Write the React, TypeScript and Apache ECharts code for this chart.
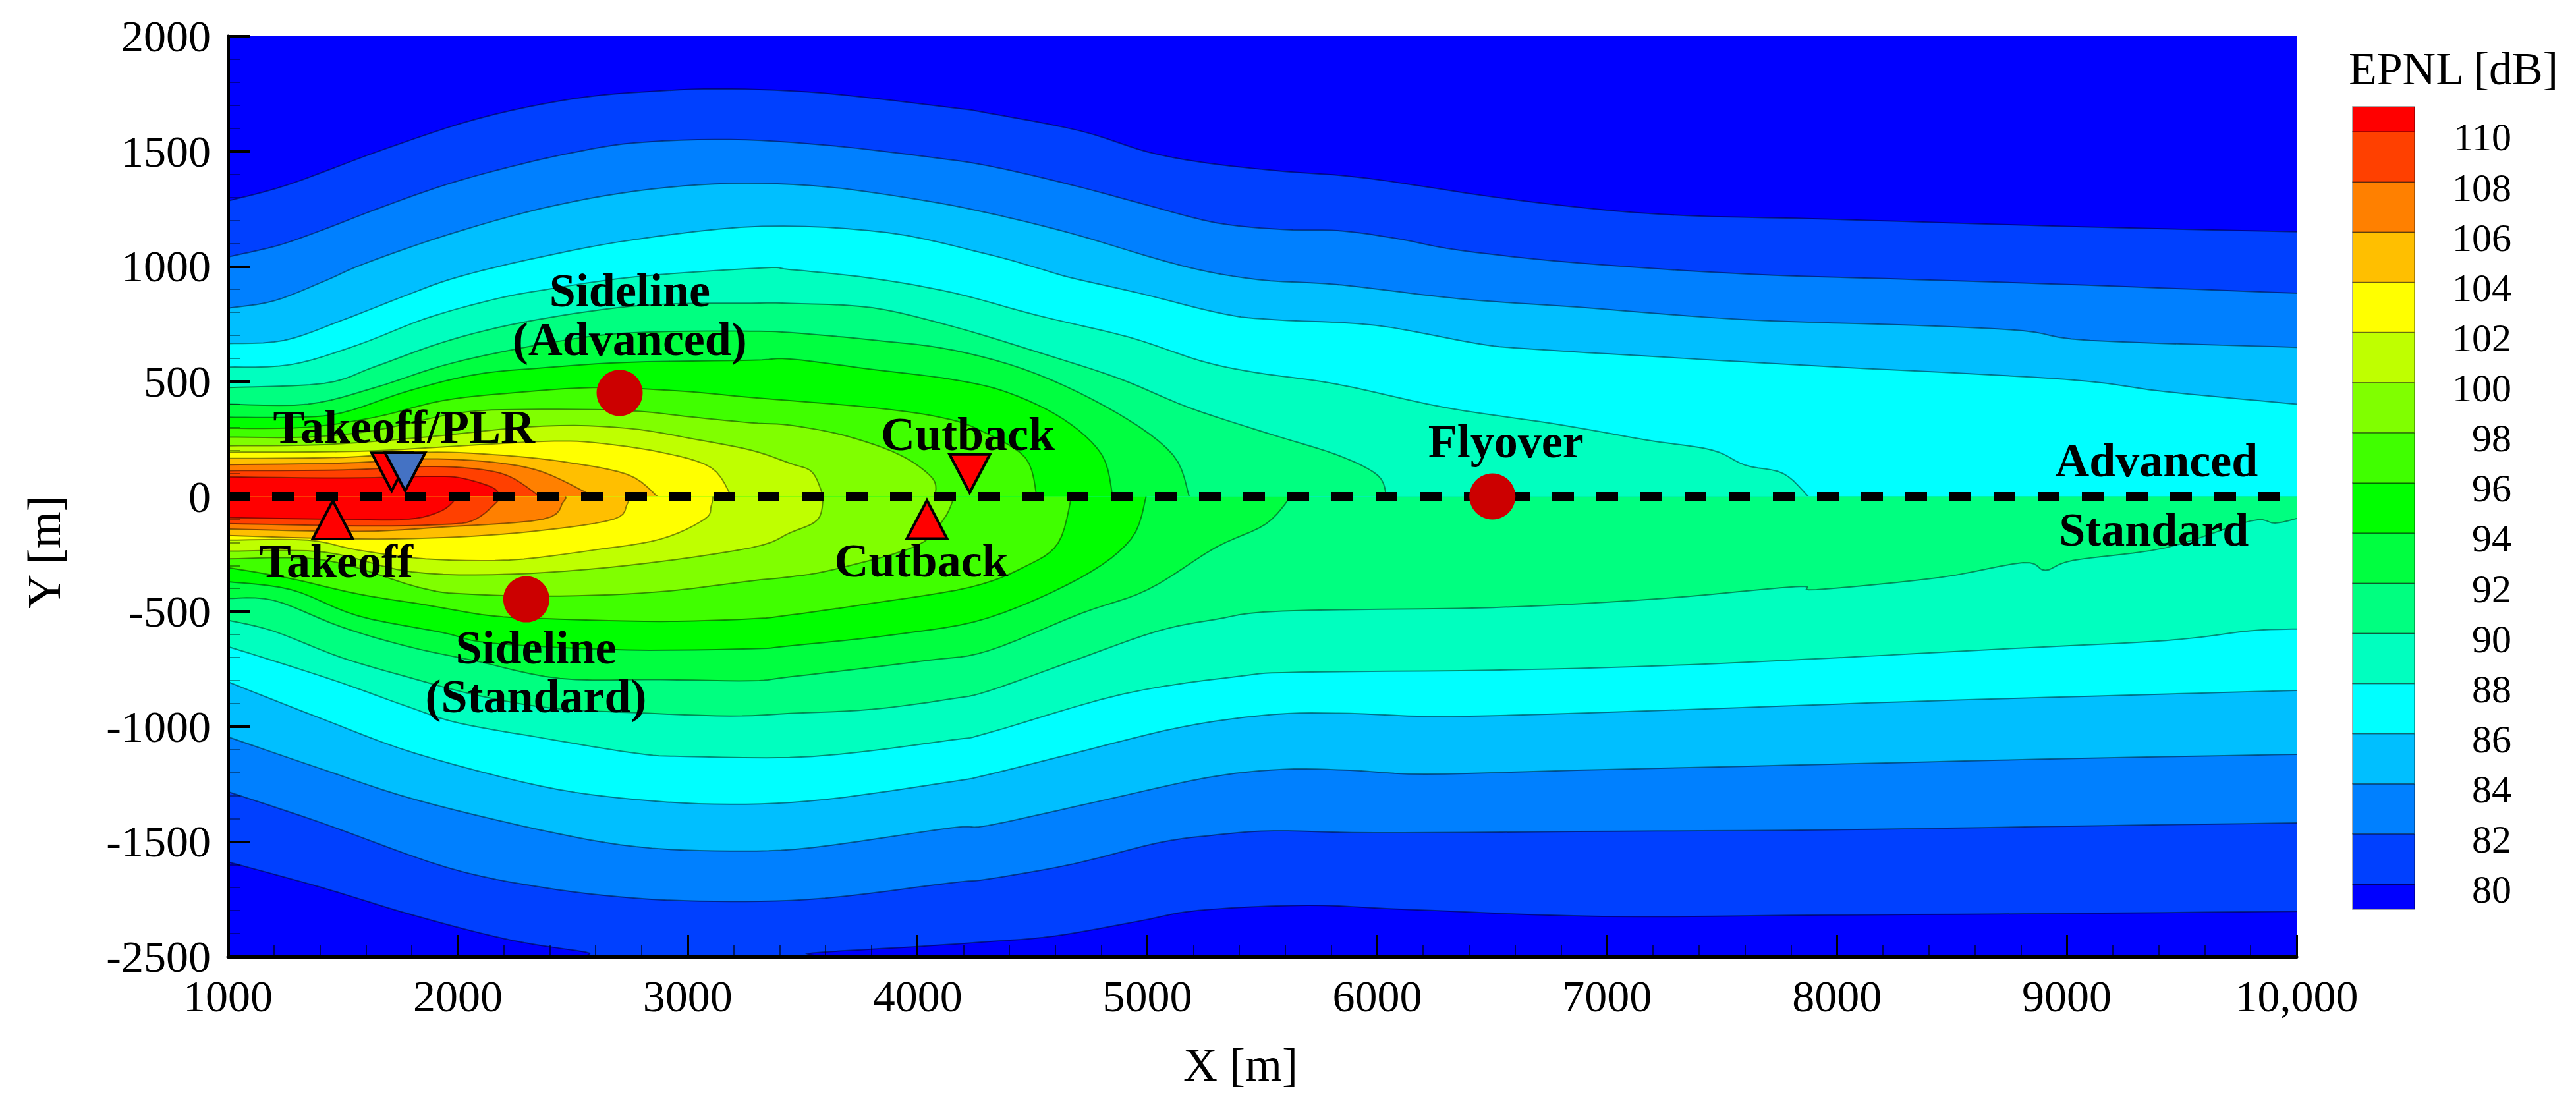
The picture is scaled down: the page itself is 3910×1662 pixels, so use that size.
import React, { useEffect, useRef } from "react";
import * as echarts from "echarts";

// Upper half (Advanced): contour curves, [x, y]
const up80 = [[1000,1284],[1266,1356],[1677,1508],[2089,1642],[2500,1728],[2857,1761],[3186,1771],[3597,1752],[4146,1690],[4307,1666],[4710,1588],[5002,1497],[5259,1449],[5588,1413],[5954,1383],[6613,1287],[7235,1226],[7967,1205],[9065,1172],[10000,1150]];
const up82 = [[1000,1041],[1211,1089],[1403,1155],[1677,1260],[1952,1356],[2226,1432],[2500,1494],[2774,1537],[3186,1551],[3597,1527],[4009,1480],[4307,1437],[4673,1353],[4966,1275],[5295,1190],[5588,1160],[5844,1154],[6100,1118],[6357,1070],[6869,1015],[7601,967],[8333,943],[9065,919],[10000,883]];
const up84 = [[1000,818],[1200,850],[1420,936],[1595,1012],[1952,1136],[2363,1251],[2774,1327],[3186,1360],[3597,1346],[4009,1289],[4307,1232],[4673,1142],[5149,1003],[5478,943],[5844,919],[6357,859],[6869,823],[7601,768],[8333,744],[8809,720],[9101,678],[10000,648]];
const up86 = [[1000,664],[1244,678],[1493,764],[1786,878],[2005,955],[2363,1041],[2774,1117],[3323,1174],[3872,1146],[4307,1052],[4527,991],[4673,949],[4966,883],[5332,793],[5551,768],[5991,744],[6430,665],[6649,642],[7235,606],[7967,564],[8992,509],[9431,455],[10000,401]];
const up88 = [[1000,562],[1274,573],[1566,659],[1859,773],[2151,855],[2371,897],[2774,955],[3323,993],[3447,986],[3804,948],[4160,884],[4517,788],[4921,692],[5230,590],[5468,539],[5824,488],[6299,386],[6775,315],[7174,245],[7455,202],[7601,136],[7766,100],[7875,0]];
const up90 = [[1000,473],[1420,492],[1639,564],[1932,669],[2225,745],[2590,807],[2883,835],[3275,840],[3447,839],[3804,820],[4160,737],[4517,629],[4873,514],[5182,386],[5515,277],[5824,181],[6002,92],[6040,0]];
const up92 = [[1000,401],[1347,401],[1639,473],[1932,568],[2225,635],[2590,697],[2883,716],[3275,718],[3447,712],[3804,680],[4160,635],[4517,533],[4873,360],[5111,181],[5182,0]];
const up94 = [[1000,344],[1274,344],[1493,363],[1786,459],[2078,530],[2371,559],[2737,583],[3275,592],[3447,597],[3804,552],[4160,507],[4398,450],[4636,335],[4802,181],[4849,0]];
const up96 = [[1000,296],[1347,301],[1639,344],[1932,416],[2225,449],[2590,473],[2956,459],[3275,430],[3804,386],[4113,341],[4279,284],[4469,168],[4519,0]];
const up98 = [[1000,258],[1347,258],[1639,287],[2005,363],[2298,378],[2737,373],[3029,344],[3275,320],[3447,309],[3685,264],[3922,181],[4065,79],[4077,0]];
const up100 = [[1000,220],[1420,225],[1859,258],[2371,306],[2737,296],[3029,249],[3275,201],[3447,143],[3542,105],[3590,0]];
const up102 = [[1000,192],[1566,196],[1932,215],[2371,239],[2590,234],[2883,192],[3102,125],[3190,0]];
const up104 = [[1000,165],[1500,170],[1859,192],[2151,182],[2444,153],[2737,96],[2868,0]];
const up106 = [[1000,138],[1500,145],[1859,163],[2151,149],[2371,106],[2590,0]];
const up108 = [[1000,112],[1500,115],[1859,130],[2078,120],[2225,87],[2356,0]];
const up110 = [[1000,85],[1500,80],[1859,87],[2005,82],[2151,39],[2180,0]];

// Lower half (Standard)
const low80 = [[1000,-1588],[1403,-1698],[1814,-1822],[2226,-1927],[2555,-1980],[2640,-2000],[3500,-2000],[3542,-1984],[4000,-1956],[4307,-1935],[4600,-1910],[4966,-1845],[5222,-1799],[5698,-1777],[6137,-1795],[6979,-1825],[7967,-1819],[9065,-1812],[10000,-1803]];
const low82 = [[1000,-1283],[1403,-1417],[1952,-1612],[2363,-1698],[2774,-1746],[3186,-1760],[3597,-1746],[4146,-1679],[4307,-1663],[4673,-1598],[5039,-1507],[5259,-1475],[5551,-1453],[5991,-1462],[6869,-1456],[7967,-1449],[9065,-1432],[10000,-1419]];
const low84 = [[1000,-1045],[1403,-1183],[1814,-1317],[2363,-1450],[2774,-1522],[3186,-1541],[3542,-1526],[4146,-1440],[4307,-1430],[4783,-1326],[5259,-1222],[5588,-1186],[5881,-1190],[6210,-1207],[6869,-1190],[7967,-1164],[9065,-1138],[10000,-1121]];
const low86 = [[1000,-806],[1403,-964],[1814,-1116],[2363,-1259],[2774,-1317],[3186,-1338],[3597,-1317],[4146,-1240],[4307,-1209],[4673,-1118],[5149,-1002],[5551,-947],[5881,-943],[6320,-956],[7235,-930],[8333,-891],[9431,-859],[10000,-843]];
const low88 = [[1000,-653],[1200,-715],[1493,-810],[1786,-915],[2005,-985],[2363,-1049],[2774,-1116],[2994,-1130],[3542,-1130],[4146,-1059],[4307,-1028],[4893,-859],[5405,-781],[5661,-764],[6503,-755],[7235,-736],[7967,-703],[8699,-664],[9431,-626],[9797,-584],[10000,-576]];
const low90 = [[1000,-538],[1200,-586],[1493,-700],[1786,-786],[2078,-863],[2405,-920],[2774,-940],[3186,-954],[3447,-943],[3804,-925],[4146,-880],[4307,-846],[4673,-716],[5039,-587],[5295,-535],[5588,-498],[6503,-483],[7235,-444],[7820,-392],[7912,-405],[8443,-353],[8809,-288],[8907,-321],[9028,-278],[9431,-223],[9797,-107],[9906,-116],[10000,-96]];
const low92 = [[1000,-443],[1200,-452],[1493,-567],[1786,-653],[2078,-715],[2444,-791],[2883,-796],[3275,-801],[3447,-784],[4041,-713],[4307,-671],[4710,-509],[5002,-405],[5295,-223],[5515,-120],[5624,0]];
const low94 = [[1000,-371],[1274,-405],[1566,-519],[1932,-591],[2151,-638],[2737,-667],[3275,-662],[3447,-649],[3922,-598],[4307,-528],[4710,-353],[4929,-185],[4995,0]];
const low96 = [[1000,-309],[1274,-357],[1566,-424],[1859,-471],[2151,-519],[2444,-533],[2883,-543],[3275,-532],[3447,-515],[3804,-464],[4231,-394],[4469,-304],[4612,-202],[4670,0]];
const low98 = [[1000,-271],[1420,-276],[1830,-395],[2034,-424],[2444,-433],[2883,-414],[3275,-367],[3447,-349],[3637,-317],[3994,-215],[4113,-100],[4160,0]];
const low100 = [[1000,-238],[1420,-242],[1800,-328],[2225,-338],[2737,-300],[3275,-223],[3447,-157],[3566,-100],[3590,0]];
const low102 = [[1000,-190],[1347,-190],[1566,-233],[1859,-271],[2225,-276],[2590,-233],[2883,-185],[3073,-99],[3102,-42],[3110,0]];
const low104 = [[1000,-170],[1566,-185],[2005,-176],[2371,-147],[2678,-99],[2737,-33],[2745,0]];
const low106 = [[1000,-142],[1566,-152],[1932,-133],[2371,-99],[2459,-23],[2470,0]];
const low108 = [[1000,-118],[1566,-128],[1932,-122],[2078,-99],[2195,0]];
const low110 = [[1000,-92],[1500,-100],[1786,-99],[1932,-61],[2000,0]];

const upperCurves = [up80,up82,up84,up86,up88,up90,up92,up94,up96,up98,up100,up102,up104,up106,up108,up110];
const lowerCurves = [low80,low82,low84,low86,low88,low90,low92,low94,low96,low98,low100,low102,low104,low106,low108,low110];
const levels = [80,82,84,86,88,90,92,94,96,98,100,102,104,106,108,110];
const levelColors = ["#0040ff","#0080ff","#00bfff","#00ffff","#00ffbf","#00ff80","#00ff40","#00ff00","#40ff00","#80ff00","#bfff00","#ffff00","#ffbf00","#ff8000","#ff4000","#ff0000"];
const belowColor = "#0000ff";
const barEdges = [79,80,82,84,86,88,90,92,94,96,98,100,102,104,106,108,110,111];
const barColors = [belowColor, ...levelColors];
const barLabelShift = 0.22;

const xTickLabels: Record<number,string> = {10000:"10,000"};
const yTickLabels: Record<number,string> = {2000:"2000",1500:"1500",1000:"1000",500:"500",0:"0",[-500]:"-500",[-1000]:"-1000",[-1500]:"-1500",[-2000]:"-2500"};

const dashLine = [[1000,0],[10000,0]];
const noisePoints = [[2704,450],[2298,-447],[6501,0]];
const upTriangles = [[1456,-102],[4041,-100]];
const downRed = [[1712,107],[4227,99]];
const downBlue = [[1771,107]];
const annotations: [number,number,string][] = [
  [2748,789,"Sideline\n(Advanced)"],
  [1766,302,"Takeoff/PLR"],[1471,-282,"Takeoff"],
  [2340,-763,"Sideline\n(Standard)"],
  [4219,271,"Cutback"],[4017,-280,"Cutback"],
  [6560,239,"Flyover"],[9390,156,"Advanced"],[9379,-144,"Standard"],
];

const SERIF = "Liberation Serif";
const LINE = "rgba(0,0,0,0.45)";

function spline(p: number[][]) {
  const out: number[][] = [];
  for (let i = 0; i < p.length - 1; i++) {
    const a = p[Math.max(i - 1, 0)], b = p[i], c = p[i + 1], d = p[Math.min(i + 2, p.length - 1)];
    for (let k = 0; k < 6; k++) {
      const t = k / 6, t2 = t * t, t3 = t2 * t;
      const f = (j: number) => 0.5 * (2 * b[j] + (c[j] - a[j]) * t + (2 * a[j] - 5 * b[j] + 4 * c[j] - d[j]) * t2 + (3 * b[j] - a[j] - 3 * c[j] + d[j]) * t3);
      out.push([f(0), f(1)]);
    }
  }
  out.push(p[p.length - 1]);
  return out;
}

function contourSeries(curves: number[][][], side: number, name: string) {
  return {
    type: "custom", name, coordinateSystem: "cartesian2d", xAxisIndex: 0, yAxisIndex: 0,
    clip: true, silent: true, z: 2,
    data: curves.map((_, i) => [i]),
    renderItem: (_p: any, api: any) => {
      const i = api.value(0);
      const pts = curves[i];
      const zeroY = api.coord([1000, 0])[1];
      const curve = spline(pts.map((q) => api.coord(q))).map(([x, y]) => [x, side > 0 ? Math.min(y, zeroY) : Math.max(y, zeroY)]);
      const endX = curve[curve.length - 1][0];
      const poly = [...curve, [endX, zeroY], [curve[0][0], zeroY]];
      return {
        type: "group",
        children: [
          { type: "polygon", shape: { points: poly }, style: { fill: levelColors[i], stroke: null } },
          { type: "polyline", shape: { points: curve }, style: { fill: null, stroke: LINE, lineWidth: 2 } },
        ],
      };
    },
  };
}

export default function App() {
  const ref = useRef<HTMLDivElement>(null);
  useEffect(() => {
    document.body.style.margin = "0";
    const chart = echarts.init(ref.current!, null, { renderer: "svg" });
    const tri = (name: string, data: number[][], color: string, rot: number) => ({
      type: "scatter", name, data, symbol: "triangle", symbolSize: [61, 58], symbolRotate: rot, z: 5, silent: true,
      itemStyle: { color, borderColor: "#000", borderWidth: 4, opacity: 1 },
    });
    chart.setOption({
      animation: false,
      backgroundColor: "#fff",
      textStyle: { fontFamily: SERIF },
      grid: [
        { left: 346, top: 55, width: 3140, height: 1397, show: true, backgroundColor: belowColor, borderWidth: 0 },
        { left: 3571, top: 162, width: 94, height: 1218 },
      ],
      xAxis: [
        {
          type: "value", gridIndex: 0, min: 1000, max: 10000, interval: 1000, z: 8,
          axisLine: { show: true, onZero: false, lineStyle: { color: "#000", width: 5 } },
          axisTick: { show: true, inside: true, length: 33, lineStyle: { color: "#000", width: 3 } },
          minorTick: { show: true, splitNumber: 5, length: 18, lineStyle: { color: "rgba(0,0,0,0.6)", width: 2 } },
          splitLine: { show: false },
          axisLabel: { color: "#000", fontFamily: SERIF, fontSize: 68, margin: 26, showMinLabel: true, showMaxLabel: true, hideOverlap: false,
            formatter: (v: number) => xTickLabels[v] ?? String(v) },
        },
        { type: "value", gridIndex: 1, min: 0, max: 1, show: false },
      ],
      yAxis: [
        {
          type: "value", gridIndex: 0, min: -2000, max: 2000, interval: 500, z: 8,
          axisLine: { show: true, onZero: false, lineStyle: { color: "#000", width: 5 } },
          axisTick: { show: true, inside: true, length: 33, lineStyle: { color: "#000", width: 4 } },
          minorTick: { show: true, splitNumber: 5, length: 18, lineStyle: { color: "rgba(0,0,0,0.4)", width: 2 } },
          splitLine: { show: false },
          axisLabel: { color: "#000", fontFamily: SERIF, fontSize: 68, margin: 26, showMinLabel: true, showMaxLabel: true, hideOverlap: false,
            formatter: (v: number) => yTickLabels[v] ?? String(v) },
        },
        {
          type: "value", gridIndex: 1, min: 79, max: 111, position: "right",
          axisLine: { show: false }, axisTick: { show: false }, splitLine: { show: false },
          axisLabel: { color: "#000", fontFamily: SERIF, fontSize: 60, align: "right", margin: 147, hideOverlap: false,
            customValues: levels.map((v) => v - barLabelShift),
            formatter: (v: number) => String(Math.round(v + barLabelShift)) },
        },
      ],
      series: [
        contourSeries(upperCurves, 1, "Advanced"),
        contourSeries(lowerCurves, -1, "Standard"),
        {
          type: "line", name: "Centerline", data: dashLine, symbol: "none", z: 3, silent: true,
          lineStyle: { color: "#000", width: 13, type: [33, 34], cap: "butt" },
        },
        {
          type: "scatter", name: "Noise points", data: noisePoints, symbol: "circle", symbolSize: 70, z: 4, silent: true,
          itemStyle: { color: "#cc0000", opacity: 1 },
        },
        tri("Takeoff / Cutback", upTriangles, "#ff0000", 0),
        tri("Takeoff / Cutback (advanced)", downRed, "#ff0000", 180),
        tri("Takeoff PLR", downBlue, "#4472c4", 180),
        {
          type: "custom", name: "Labels", coordinateSystem: "cartesian2d", xAxisIndex: 0, yAxisIndex: 0, z: 6, silent: true,
          data: annotations.map((a) => [a[0], a[1]]),
          renderItem: (p: any, api: any) => {
            const c = api.coord([api.value(0), api.value(1)]);
            return { type: "text", x: c[0], y: c[1], style: { text: annotations[p.dataIndex][2], fill: "#000", align: "center", verticalAlign: "middle", lineHeight: 74, font: `bold 72px "${SERIF}"` } };
          },
        },
        {
          type: "custom", name: "Colour bar", coordinateSystem: "cartesian2d", xAxisIndex: 1, yAxisIndex: 1, clip: false, silent: true,
          data: barColors.map((_, i) => [0.5, barEdges[i]]),
          renderItem: (p: any, api: any) => {
            const i = p.dataIndex;
            const a = api.coord([0, barEdges[i + 1]]);
            const b = api.coord([1, barEdges[i]]);
            return { type: "rect", shape: { x: a[0], y: a[1], width: b[0] - a[0], height: b[1] - a[1] }, style: { fill: barColors[i], stroke: LINE, lineWidth: 1.5 } };
          },
        },
      ],
      graphic: [
        { type: "text", x: 1883, y: 1616, style: { text: "X [m]", font: `72px "${SERIF}"`, fill: "#000", align: "center", verticalAlign: "middle" } },
        { type: "text", x: 67, y: 838, rotation: Math.PI / 2, style: { text: "Y [m]", font: `72px "${SERIF}"`, fill: "#000", align: "center", verticalAlign: "middle" } },
        { type: "text", x: 3724, y: 104, style: { text: "EPNL [dB]", font: `70px "${SERIF}"`, fill: "#000", align: "center", verticalAlign: "middle" } },
      ],
    });
    return () => chart.dispose();
  }, []);
  return <div ref={ref} style={{ position: "fixed", left: 0, top: 0, width: 3910, height: 1662 }} />;
}
